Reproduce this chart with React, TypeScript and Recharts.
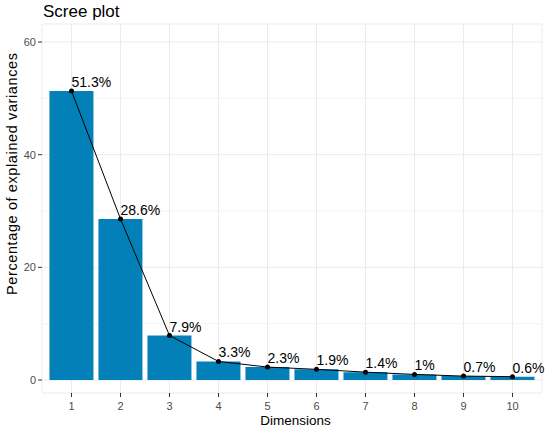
import React from 'react';
import {
  ComposedChart,
  Bar,
  Line,
  XAxis,
  YAxis,
  CartesianGrid,
  LabelList,
} from 'recharts';

const dimensions = ['1', '2', '3', '4', '5', '6', '7', '8', '9', '10'];
const variances = [51.3, 28.6, 7.9, 3.3, 2.3, 1.9, 1.4, 1.0, 0.7, 0.6];
const yTicks = [0, 20, 40, 60];
const minorY = [10, 30, 50];

const data = dimensions.map((d, i) => ({ dim: d, value: variances[i] }));

const FONT = '"Liberation Sans", Arial, Helvetica, sans-serif';

const PointLabel = (props: any) => {
  const { x, y, value } = props;
  if (x == null || y == null) return null;
  return (
    <text x={x} y={y - 4} fontSize={14} fill="#000" textAnchor="start" fontFamily={FONT}>
      {`${Number(value)}%`}
    </text>
  );
};

export default function App() {
  return (
    <div style={{ position: 'absolute', left: 0, top: 0, width: 550, height: 431, background: '#fff' }}>
      <ComposedChart
        width={550}
        height={431}
        data={data}
        margin={{ top: 24, right: 8, left: 0, bottom: 0 }}
        barCategoryGap="5%"
      >
        <CartesianGrid
          stroke="#F3F3F3"
          strokeWidth={1}
          vertical={false}
          horizontal={true}
          horizontalValues={minorY}
        />
        <CartesianGrid stroke="#EBEBEB" strokeWidth={1} vertical={true} horizontal={true} />
        <XAxis
          dataKey="dim"
          padding={{ left: 5, right: 5 }}
          axisLine={false}
          tickLine={{ stroke: '#333333' }}
          tickSize={4}
          tickMargin={5}
          height={38}
          interval={0}
          tick={{ fill: '#4D4D4D', fontSize: 11, fontFamily: FONT }}
        />
        <YAxis
          width={42}
          domain={[-2.3, 63.2]}
          ticks={yTicks}
          axisLine={false}
          tickLine={{ stroke: '#333333' }}
          tickSize={4}
          tickMargin={2}
          allowDataOverflow={true}
          tick={{ fill: '#4D4D4D', fontSize: 11, fontFamily: FONT }}
        />
        <Bar dataKey="value" fill="#0480B8" isAnimationActive={false} />
        <Line
          dataKey="value"
          type="linear"
          stroke="#000000"
          strokeWidth={1}
          dot={{ r: 2.5, fill: '#000', stroke: '#000', strokeWidth: 0 }}
          activeDot={false}
          isAnimationActive={false}
        >
          <LabelList dataKey="value" content={PointLabel} />
        </Line>
      </ComposedChart>
      <svg
        width={550}
        height={431}
        style={{ position: 'absolute', left: 0, top: 0, pointerEvents: 'none' }}
        fontFamily={FONT}
      >
        <text x={43} y={16.5} fontSize={17} fill="#000">
          Scree plot
        </text>
        <text
          x={17}
          y={174}
          fontSize={14.5}
          fill="#000"
          textAnchor="middle"
          transform="rotate(-90 17 174)"
          textLength={242}
          lengthAdjust="spacing"
        >
          Percentage of explained variances
        </text>
        <text x={295.5} y={425} fontSize={13.5} fill="#000" textAnchor="middle">
          Dimensions
        </text>
      </svg>
    </div>
  );
}
